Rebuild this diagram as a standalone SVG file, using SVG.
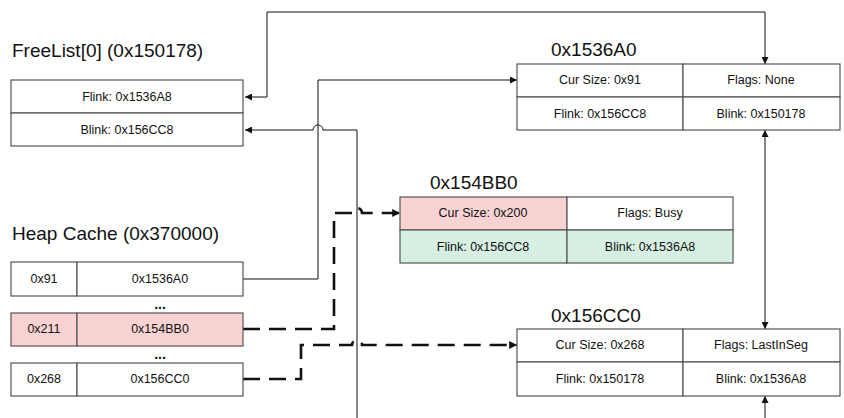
<svg xmlns="http://www.w3.org/2000/svg" width="844" height="418" viewBox="0 0 844 418">
<style>
.title{font-family:"Liberation Sans",Arial,sans-serif;font-size:19px;fill:#111}
.cell{fill:#fff;stroke:#555;stroke-width:1.2}
.pink{fill:#f9d3d3}
.green{fill:#d6efe2}
.t{font-family:"Liberation Sans",Arial,sans-serif;font-size:12.5px;fill:#111;text-anchor:middle;dominant-baseline:central}
.dots{font-family:"Liberation Sans",Arial,sans-serif;font-size:14px;font-weight:bold;fill:#111;text-anchor:middle}
.solid{fill:none;stroke:#111;stroke-width:1}
.dash{fill:none;stroke:#111;stroke-width:2.6;stroke-dasharray:17 9}
</style>
<defs>
<marker id="ah" viewBox="0 0 10 10" refX="10" refY="5" markerWidth="7" markerHeight="7" markerUnits="userSpaceOnUse" orient="auto-start-reverse">
<path d="M0,0 L10,5 L0,10 z" fill="#111"/>
</marker>
<marker id="ahd" viewBox="0 0 10 10" refX="10" refY="5" markerWidth="3" markerHeight="3" orient="auto">
<path d="M0,0 L10,5 L0,10 z" fill="#111"/>
</marker>
</defs>

<g id="connectors">
<path class="solid" d="M245,97 H267 V12 H765 V64" marker-start="url(#ah)" marker-end="url(#ah)"/>
<path class="solid" d="M243,279 H318 V80 H517" marker-end="url(#ah)"/>
<path class="solid" d="M357,418 V130 H323 A5,5 0 0 0 313,130 H245" marker-end="url(#ah)"/>
<path class="solid" d="M765,130 V329" marker-start="url(#ah)" marker-end="url(#ah)"/>
<path class="solid" d="M765,418 V396" marker-end="url(#ah)"/>
<path class="dash" d="M243,329 H334 V213 H352 A5,5 0 0 1 362,213 H400" marker-end="url(#ahd)"/>
<path class="dash" d="M243,379 H301 V345 H352 A5,5 0 0 1 362,345 H517" marker-end="url(#ahd)"/>
</g>

<g id="freelist">
<text class="title" x="12" y="57">FreeList[0] (0x150178)</text>
<rect class="cell" x="11" y="80" width="232" height="33"/>
<rect class="cell" x="11" y="113" width="232" height="33"/>
<text class="t" x="127" y="97">Flink: 0x1536A8</text>
<text class="t" x="127" y="130">Blink: 0x156CC8</text>
</g>

<g id="heapcache">
<text class="title" x="12" y="240">Heap Cache (0x370000)</text>
<rect class="cell" x="11" y="262" width="66" height="34"/>
<rect class="cell" x="77" y="262" width="166" height="34"/>
<text class="t" x="44" y="279">0x91</text>
<text class="t" x="160" y="279">0x1536A0</text>
<text class="dots" x="160" y="309">...</text>
<rect class="cell pink" x="11" y="313" width="66" height="33"/>
<rect class="cell pink" x="77" y="313" width="166" height="33"/>
<text class="t" x="44" y="329">0x211</text>
<text class="t" x="160" y="329">0x154BB0</text>
<text class="dots" x="160" y="359">...</text>
<rect class="cell" x="11" y="363" width="66" height="33"/>
<rect class="cell" x="77" y="363" width="166" height="33"/>
<text class="t" x="44" y="379">0x268</text>
<text class="t" x="160" y="379">0x156CC0</text>
</g>

<g id="chunk1536A0">
<text class="title" x="551" y="56">0x1536A0</text>
<rect class="cell" x="517" y="64" width="166" height="33"/>
<rect class="cell" x="683" y="64" width="157" height="33"/>
<rect class="cell" x="517" y="97" width="166" height="33"/>
<rect class="cell" x="683" y="97" width="157" height="33"/>
<text class="t" x="600" y="80">Cur Size: 0x91</text>
<text class="t" x="761" y="80">Flags: None</text>
<text class="t" x="600" y="114">Flink: 0x156CC8</text>
<text class="t" x="761" y="114">Blink: 0x150178</text>
</g>

<g id="chunk154BB0">
<text class="title" x="430" y="189">0x154BB0</text>
<rect class="cell pink" x="400" y="197" width="167" height="33"/>
<rect class="cell" x="567" y="197" width="166" height="33"/>
<rect class="cell green" x="400" y="230" width="167" height="33"/>
<rect class="cell green" x="567" y="230" width="166" height="33"/>
<text class="t" x="483" y="213">Cur Size: 0x200</text>
<text class="t" x="650" y="213">Flags: Busy</text>
<text class="t" x="483" y="247">Flink: 0x156CC8</text>
<text class="t" x="650" y="247">Blink: 0x1536A8</text>
</g>

<g id="chunk156CC0">
<text class="title" x="551" y="322">0x156CC0</text>
<rect class="cell" x="517" y="329" width="166" height="33"/>
<rect class="cell" x="683" y="329" width="157" height="33"/>
<rect class="cell" x="517" y="362" width="166" height="34"/>
<rect class="cell" x="683" y="362" width="157" height="34"/>
<text class="t" x="600" y="345">Cur Size: 0x268</text>
<text class="t" x="761" y="345">Flags: LastInSeg</text>
<text class="t" x="600" y="379">Flink: 0x150178</text>
<text class="t" x="761" y="379">Blink: 0x1536A8</text>
</g>
</svg>
